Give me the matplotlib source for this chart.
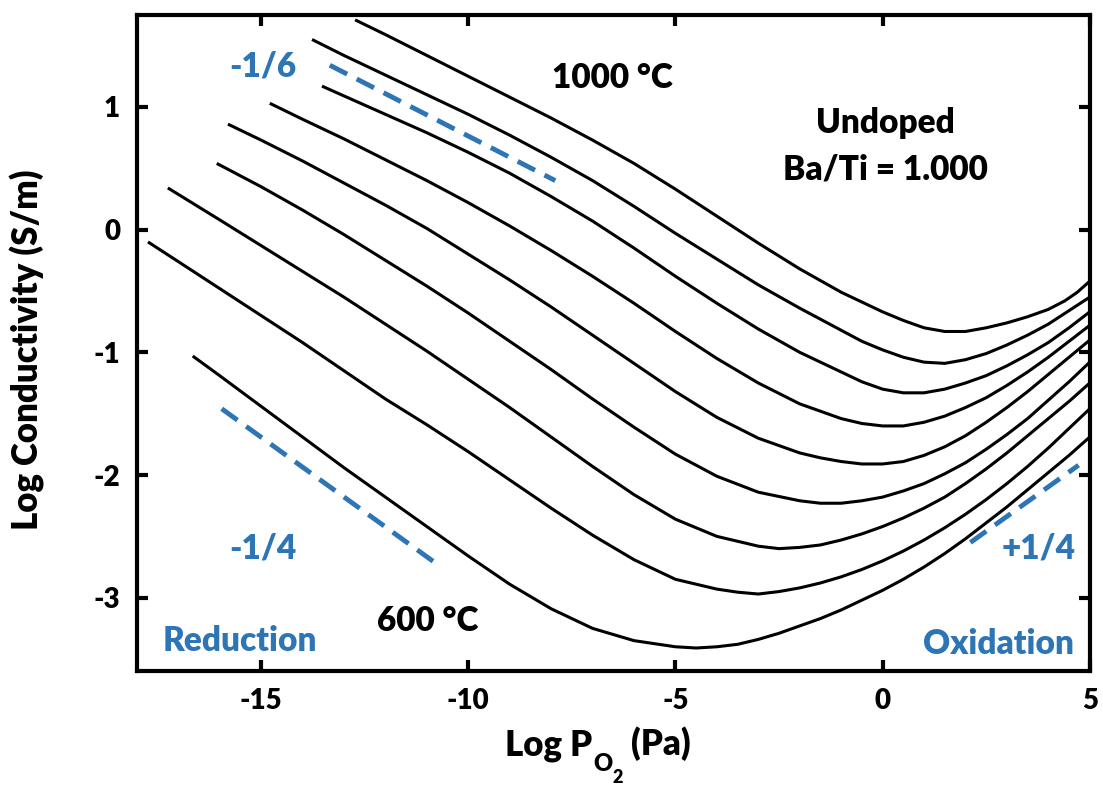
import matplotlib
matplotlib.use('Agg')
import matplotlib.pyplot as plt

plt.rcParams['font.family'] = ['Lato', 'DejaVu Sans']
plt.rcParams['font.weight'] = 'heavy'
plt.rcParams['axes.labelweight'] = 'heavy'
plt.rcParams['axes.unicode_minus'] = False

blue = '#2E75B6'

# log P(O2) (Pa) vs log conductivity (S/m), 1000 C down to 600 C
x_1000 = [-12.73, -12, -11, -10, -9, -8, -7, -6, -5, -4, -3, -2, -1, 0, 0.5, 1.0, 1.5, 2.0, 2.5, 3.0, 3.5, 4.0, 4.4, 4.7, 5.0]
y_1000 = [1.71, 1.59, 1.42, 1.25, 1.08, 0.91, 0.73, 0.54, 0.33, 0.11, -0.11, -0.32, -0.51, -0.67, -0.74, -0.80, -0.83, -0.83, -0.80, -0.76, -0.71, -0.65, -0.58, -0.51, -0.42]

x_950 = [-13.77, -13, -12, -11, -10, -9, -8, -7, -6, -5, -4, -3, -2, -1, -0.5, 0, 0.5, 1.0, 1.5, 2.0, 2.5, 3.0, 3.5, 4.0, 4.5, 5.0]
y_950 = [1.55, 1.42, 1.26, 1.10, 0.94, 0.77, 0.59, 0.40, 0.19, -0.03, -0.24, -0.45, -0.64, -0.82, -0.91, -0.98, -1.04, -1.08, -1.09, -1.06, -1.01, -0.94, -0.86, -0.77, -0.66, -0.55]

x_900 = [-13.53, -13, -12, -11, -10, -9, -8, -7, -6, -5, -4, -3, -2, -1, -0.5, 0, 0.5, 1.0, 1.5, 2.0, 2.5, 3.0, 3.5, 4.0, 4.5, 5.0]
y_900 = [1.17, 1.09, 0.94, 0.79, 0.63, 0.46, 0.27, 0.07, -0.15, -0.38, -0.60, -0.81, -1.00, -1.16, -1.24, -1.30, -1.33, -1.33, -1.30, -1.25, -1.19, -1.11, -1.02, -0.92, -0.80, -0.67]

x_850 = [-14.79, -14, -13, -12, -11, -10, -9, -8, -7, -6, -5, -4, -3, -2, -1, -0.5, 0, 0.5, 1.0, 1.5, 2.0, 2.5, 3.0, 3.5, 4.0, 4.5, 5.0]
y_850 = [1.03, 0.90, 0.74, 0.57, 0.40, 0.22, 0.03, -0.17, -0.38, -0.60, -0.83, -1.05, -1.25, -1.42, -1.54, -1.58, -1.60, -1.60, -1.57, -1.52, -1.45, -1.37, -1.27, -1.16, -1.04, -0.91, -0.78]

x_800 = [-15.8, -15, -14, -13, -12, -11, -10, -9, -8, -7, -6, -5, -4, -3, -2, -1.5, -1, -0.5, 0, 0.5, 1.0, 1.5, 2.0, 2.5, 3.0, 3.5, 4.0, 4.5, 5.0]
y_800 = [0.86, 0.73, 0.56, 0.38, 0.20, 0.01, -0.20, -0.41, -0.63, -0.86, -1.09, -1.32, -1.53, -1.70, -1.82, -1.86, -1.89, -1.91, -1.91, -1.89, -1.84, -1.77, -1.68, -1.57, -1.45, -1.32, -1.18, -1.04, -0.90]

x_750 = [-16.07, -15, -14, -13, -12, -11, -10, -9, -8, -7, -6, -5, -4, -3, -2, -1.5, -1, -0.5, 0, 0.5, 1.0, 1.5, 2.0, 2.5, 3.0, 3.5, 4.0, 4.5, 5.0]
y_750 = [0.54, 0.35, 0.16, -0.04, -0.25, -0.46, -0.68, -0.91, -1.14, -1.38, -1.61, -1.83, -2.01, -2.14, -2.21, -2.23, -2.23, -2.21, -2.18, -2.13, -2.07, -1.99, -1.90, -1.79, -1.67, -1.54, -1.39, -1.24, -1.08]

x_700 = [-17.25, -16, -15, -14, -13, -12, -11, -10, -9, -8, -7, -6, -5, -4, -3, -2.5, -2, -1.5, -1, -0.5, 0, 0.5, 1.0, 1.5, 2.0, 2.5, 3.0, 3.5, 4.0, 4.5, 5.0]
y_700 = [0.34, 0.08, -0.13, -0.34, -0.55, -0.77, -0.99, -1.22, -1.45, -1.69, -1.93, -2.16, -2.36, -2.50, -2.58, -2.60, -2.59, -2.57, -2.53, -2.48, -2.42, -2.35, -2.27, -2.18, -2.07, -1.95, -1.82, -1.68, -1.54, -1.40, -1.25]

x_650 = [-17.73, -17, -16, -15, -14, -13, -12, -11, -10, -9, -8, -7, -6, -5, -4, -3.5, -3, -2.5, -2, -1.5, -1, -0.5, 0, 0.5, 1.0, 1.5, 2.0, 2.5, 3.0, 3.5, 4.0, 4.5, 5.0]
y_650 = [-0.10, -0.26, -0.48, -0.70, -0.92, -1.15, -1.38, -1.59, -1.81, -2.04, -2.27, -2.49, -2.69, -2.85, -2.93, -2.955, -2.97, -2.95, -2.92, -2.88, -2.83, -2.77, -2.70, -2.62, -2.53, -2.43, -2.32, -2.20, -2.07, -1.93, -1.78, -1.62, -1.46]

x_600 = [-16.65, -16, -15, -14, -13, -12, -11, -10, -9, -8, -7, -6, -5, -4.5, -4, -3.5, -3, -2.5, -2, -1.5, -1, -0.5, 0, 0.5, 1.0, 1.5, 2.0, 2.5, 3.0, 3.5, 4.0, 4.5, 5.0]
y_600 = [-1.03, -1.19, -1.44, -1.69, -1.94, -2.18, -2.42, -2.66, -2.89, -3.09, -3.25, -3.35, -3.40, -3.41, -3.40, -3.38, -3.34, -3.29, -3.23, -3.17, -3.10, -3.02, -2.94, -2.85, -2.75, -2.64, -2.52, -2.39, -2.26, -2.12, -1.98, -1.84, -1.69]

curves = [(x_1000, y_1000), (x_950, y_950), (x_900, y_900), (x_850, y_850), (x_800, y_800),
          (x_750, y_750), (x_700, y_700), (x_650, y_650), (x_600, y_600)]

# slope guide lines
slope_m16_x = [-13.34, -7.90]
slope_m16_y = [1.34, 0.40]
slope_m14_x = [-15.95, -10.78]
slope_m14_y = [-1.46, -2.72]
slope_p14_x = [2.12, 4.73]
slope_p14_y = [-2.55, -1.92]

fig = plt.figure(figsize=(11.03, 7.87), dpi=100)
ax = fig.add_axes([0.124, 0.147, 0.864, 0.834])

for xs, ys in curves:
    ax.plot(xs, ys, color='black', lw=2.2, solid_joinstyle='round', solid_capstyle='butt')

for xs, ys in [(slope_m16_x, slope_m16_y), (slope_m14_x, slope_m14_y), (slope_p14_x, slope_p14_y)]:
    ax.plot(xs, ys, color=blue, lw=3.5, dashes=(4, 2.2), dash_capstyle='butt')

ax.set_xlim(-18, 5)
ax.set_ylim(-3.6, 1.75)
ax.set_xticks([-15, -10, -5, 0, 5])
ax.set_yticks([-3, -2, -1, 0, 1])

for s in ax.spines.values():
    s.set_linewidth(3)
ax.tick_params(direction='in', length=8, width=3, top=True, right=True,
               labeltop=False, labelright=False, labelsize=20, pad=12)

ax.set_ylabel('Log Conductivity (S/m)', fontsize=25, fontweight='heavy')
ax.yaxis.set_label_coords(-0.096, 0.49)

# x label built piece by piece: Log P, subscript O, sub-subscript 2, (Pa)
W, H = fig.bbox.width, fig.bbox.height
r = fig.canvas.get_renderer()
base = 1 - 755 / 787
t = fig.text(505 / W, base, 'Log P', fontsize=25, va='baseline', ha='left')
x_next = t.get_window_extent(r).x1 / W
t = fig.text(x_next + 1 / W, base - 16 / H, 'O', fontsize=17, va='baseline', ha='left')
x_next = t.get_window_extent(r).x1 / W
t = fig.text(x_next, base - 28 / H, '2', fontsize=13, va='baseline', ha='left')
x_next = t.get_window_extent(r).x1 / W
fig.text(x_next + 8 / W, base, '(Pa)', fontsize=25, va='baseline', ha='left')

fs = 24
ax.text(-6.53, 1.24, '1000 °C', fontsize=fs, ha='center', va='center')
ax.text(0.07, 0.87, 'Undoped', fontsize=fs, ha='center', va='center')
ax.text(0.07, 0.49, 'Ba/Ti = 1.000', fontsize=fs, ha='center', va='center')
ax.text(-10.97, -3.19, '600 °C', fontsize=fs, ha='center', va='center')
ax.text(-14.96, 1.33, '-1/6', fontsize=fs, ha='center', va='center', color=blue)
ax.text(-14.96, -2.60, '-1/4', fontsize=fs, ha='center', va='center', color=blue)
ax.text(3.76, -2.60, '+1/4', fontsize=fs, ha='center', va='center', color=blue)
ax.text(-15.51, -3.35, 'Reduction', fontsize=fs, ha='center', va='center', color=blue)
ax.text(2.80, -3.38, 'Oxidation', fontsize=fs, ha='center', va='center', color=blue)

fig.savefig('out.png', dpi=100)
